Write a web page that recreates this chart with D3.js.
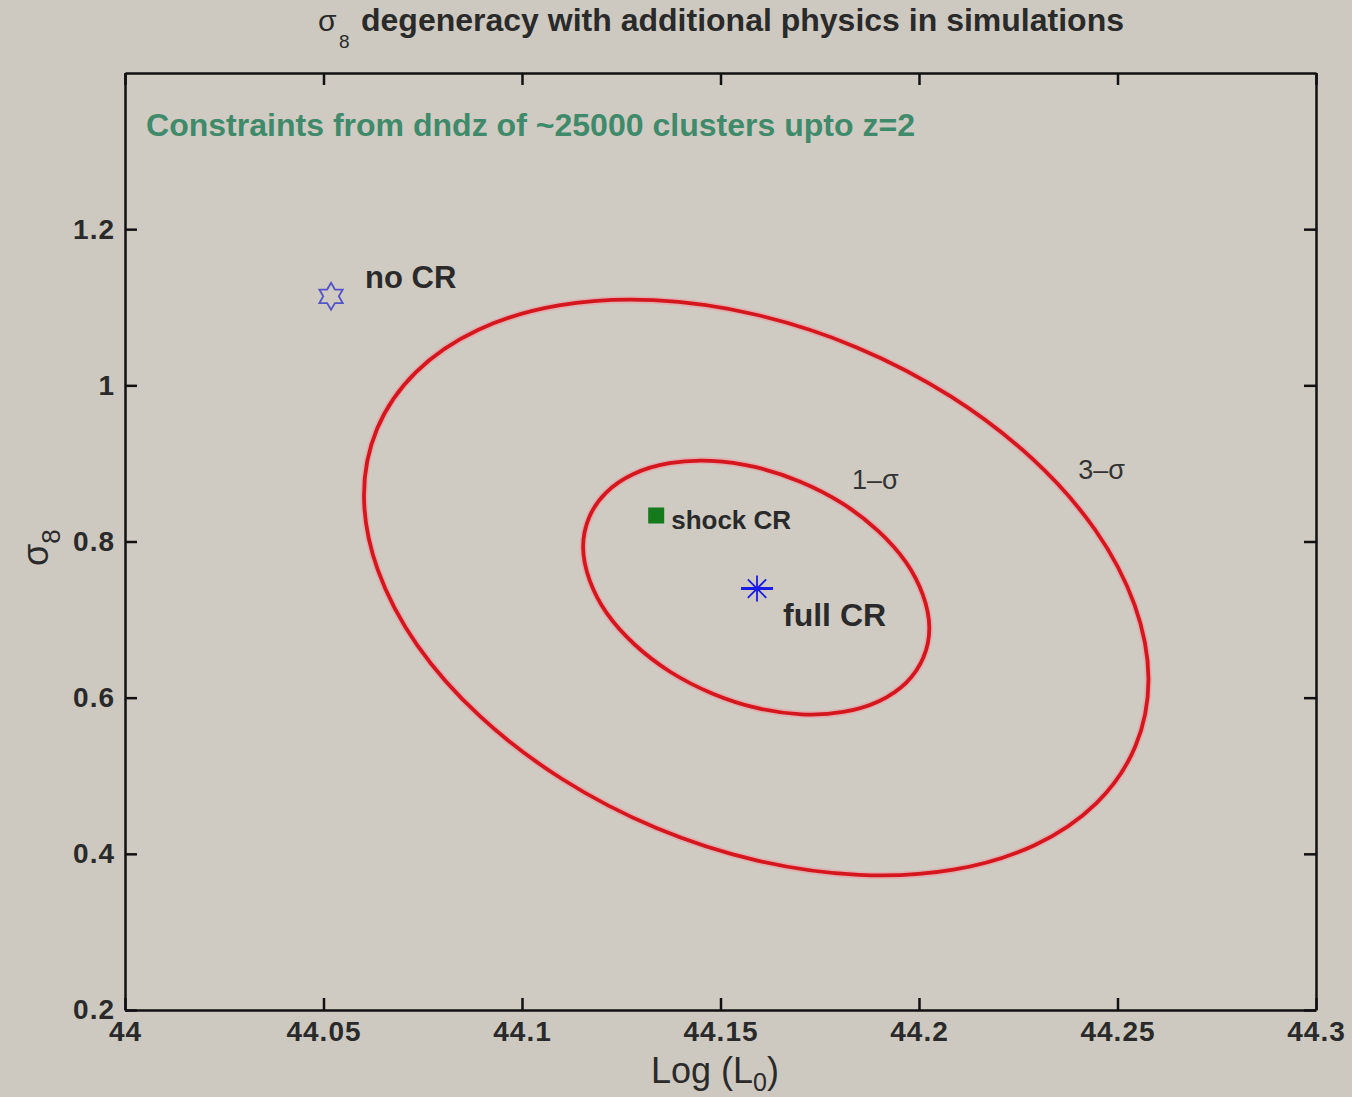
<!DOCTYPE html>
<html>
<head>
<meta charset="utf-8">
<script src="https://cdn.jsdelivr.net/npm/d3@7"></script>
<style>
  html, body { margin: 0; padding: 0; background: #cdc9c0; }
  svg { display: block; }
  text { font-family: "Liberation Sans", Arial, sans-serif; }
</style>
</head>
<body>
<svg id="chart" width="1352" height="1097"></svg>
<script>
// Axis ticks
const xTicks = [44, 44.05, 44.1, 44.15, 44.2, 44.25, 44.3];
const xTickLabels = ["44", "44.05", "44.1", "44.15", "44.2", "44.25", "44.3"];
const yTicks = [0.2, 0.4, 0.6, 0.8, 1.0, 1.2];
const yTickLabels = ["0.2", "0.4", "0.6", "0.8", "1", "1.2"];

// 3-sigma contour (Log L0, sigma8)
const contour3x = [44.2545, 44.2447, 44.2291, 44.2087, 44.1849, 44.1593, 44.1337, 44.1099,
                   44.0894, 44.0736, 44.0637, 44.0602, 44.0635, 44.0733, 44.0889, 44.1093,
                   44.1331, 44.1587, 44.1843, 44.2081, 44.2286, 44.2444, 44.2543, 44.2578];
const contour3y = [0.5377, 0.4650, 0.4111, 0.3797, 0.3730, 0.3913, 0.4334, 0.4965,
                   0.5763, 0.6673, 0.7633, 0.8578, 0.9443, 1.0170, 1.0709, 1.1023,
                   1.1090, 1.0907, 1.0486, 0.9855, 0.9057, 0.8147, 0.7187, 0.6242];

// 1-sigma contour
const contour1x = [44.2011, 44.1968, 44.1899, 44.1809, 44.1704, 44.1591, 44.1479, 44.1373,
                   44.1283, 44.1213, 44.1170, 44.1154, 44.1169, 44.1212, 44.1281, 44.1371,
                   44.1476, 44.1589, 44.1701, 44.1807, 44.1897, 44.1967, 44.2010, 44.2026];
const contour1y = [0.6513, 0.6193, 0.5955, 0.5817, 0.5787, 0.5868, 0.6054, 0.6332,
                   0.6684, 0.7085, 0.7508, 0.7925, 0.8307, 0.8627, 0.8865, 0.9003,
                   0.9033, 0.8952, 0.8766, 0.8488, 0.8136, 0.7735, 0.7312, 0.6895];

// Simulation models
const modelNames = ["no CR", "shock CR", "full CR"];
const modelLogL0 = [44.0519, 44.1338, 44.1592];
const modelSigma8 = [1.114, 0.8333, 0.7397];

// Contour level labels
const levelNames = ["1\u2013\u03c3", "3\u2013\u03c3"];
const levelLabelX = [44.1831, 44.2401];
const levelLabelY = [0.8667, 0.8795];

const svg = d3.select("#chart");
const margin = { left: 125, right: 36, top: 73, bottom: 87 };
const W = 1352, H = 1097;

const x = d3.scaleLinear().domain([44, 44.3]).range([margin.left, W - margin.right]);
const y = d3.scaleLinear().domain([0.2, 1.4]).range([H - margin.bottom, margin.top]);

const x0 = x.range()[0], x1 = x.range()[1];
const y0 = y.range()[0], y1 = y.range()[1];
const axisColor = "#111";
const textColor = "#2a2a2a";

// Plot area
svg.append("rect")
  .attr("x", x0).attr("y", y1)
  .attr("width", x1 - x0).attr("height", y0 - y1)
  .attr("fill", "#cfcbc2");

// Axes with inward ticks, mirrored on top and right
const tickLen = 12;
const bottomAxis = d3.axisBottom(x).tickValues(xTicks).tickSizeInner(-tickLen).tickSizeOuter(0)
  .tickFormat((d, i) => xTickLabels[i]).tickPadding(11);
const topAxis = d3.axisTop(x).tickValues(xTicks).tickSizeInner(-tickLen).tickSizeOuter(0).tickFormat("");
const leftAxis = d3.axisLeft(y).tickValues(yTicks).tickSizeInner(-tickLen).tickSizeOuter(0)
  .tickFormat((d, i) => yTickLabels[i]).tickPadding(10);
const rightAxis = d3.axisRight(y).tickValues(yTicks).tickSizeInner(-tickLen).tickSizeOuter(0).tickFormat("");

function styleAxis(g) {
  g.select(".domain").attr("stroke", axisColor).attr("stroke-width", 2.5);
  g.selectAll(".tick line").attr("stroke", axisColor).attr("stroke-width", 2.5);
  g.selectAll(".tick text")
    .attr("fill", textColor)
    .style("font-family", "'Liberation Sans', Arial, sans-serif")
    .style("font-weight", "bold")
    .style("font-size", "28px")
    .style("letter-spacing", "1px");
}

svg.append("g").attr("transform", `translate(0,${y0})`).call(bottomAxis).call(styleAxis);
svg.append("g").attr("transform", `translate(0,${y1})`).call(topAxis).call(styleAxis);
svg.append("g").attr("transform", `translate(${x0},0)`).call(leftAxis).call(styleAxis);
svg.append("g").attr("transform", `translate(${x1},0)`).call(rightAxis).call(styleAxis);

// Confidence contours
const line = d3.line().x(d => x(d[0])).y(d => y(d[1])).curve(d3.curveCardinalClosed.tension(0));
const contours = [
  d3.zip(contour3x, contour3y),
  d3.zip(contour1x, contour1y)
];
const cg = svg.append("g");
cg.selectAll("path.glow").data(contours).join("path")
  .attr("class", "glow")
  .attr("d", line)
  .attr("fill", "none")
  .attr("stroke", "#e8a0a4")
  .attr("stroke-opacity", 0.7)
  .attr("stroke-width", 7);
cg.selectAll("path.contour").data(contours).join("path")
  .attr("class", "contour")
  .attr("d", line)
  .attr("fill", "none")
  .attr("stroke", "#d4161f")
  .attr("stroke-width", 3.8);

// Contour level labels
svg.append("g").selectAll("text").data(levelNames).join("text")
  .attr("x", (d, i) => x(levelLabelX[i]))
  .attr("y", (d, i) => y(levelLabelY[i]))
  .attr("fill", "#333")
  .style("font-size", "27px")
  .text(d => d);

// Marker shapes
// six-pointed star outline (no CR)
const hexagram = {
  draw(ctx, size) {
    const R = Math.sqrt(size) / 2, r = R / Math.sqrt(3);
    for (let j = 0; j < 12; j++) {
      const a = -Math.PI / 2 + j * Math.PI / 6;
      const rr = j % 2 === 0 ? R : r;
      const px = rr * Math.cos(a), py = rr * Math.sin(a);
      if (j === 0) ctx.moveTo(px, py); else ctx.lineTo(px, py);
    }
    ctx.closePath();
  }
};
// eight-spoke asterisk (full CR)
const asterisk = {
  draw(ctx, size) {
    const r = Math.sqrt(size) / 2;
    for (let j = 0; j < 4; j++) {
      const a = j * Math.PI / 4;
      ctx.moveTo(-r * Math.cos(a), -r * Math.sin(a));
      ctx.lineTo(r * Math.cos(a), r * Math.sin(a));
    }
  }
};

const mg = svg.append("g");
mg.append("path")
  .attr("transform", `translate(${x(modelLogL0[0])},${y(modelSigma8[0])})`)
  .attr("d", d3.symbol().type(hexagram).size(27 * 27)())
  .attr("fill", "none").attr("stroke", "#5454c8").attr("stroke-width", 1.8);
mg.append("rect")
  .attr("x", x(modelLogL0[1]) - 8).attr("y", y(modelSigma8[1]) - 8)
  .attr("width", 16).attr("height", 16)
  .attr("fill", "#157a1b");
mg.append("path")
  .attr("transform", `translate(${x(modelLogL0[2])},${y(modelSigma8[2])})`)
  .attr("d", d3.symbol().type(asterisk).size(26 * 26)())
  .attr("fill", "none").attr("stroke", "#1a1ae6").attr("stroke-width", 1.8);
mg.append("line")
  .attr("x1", x(modelLogL0[2]) - 16).attr("x2", x(modelLogL0[2]) + 16)
  .attr("y1", y(modelSigma8[2])).attr("y2", y(modelSigma8[2]))
  .attr("stroke", "#1a1ae6").attr("stroke-width", 3);

// Model labels
svg.append("text").attr("x", x(modelLogL0[0]) + 34).attr("y", y(modelSigma8[0]) - 8)
  .attr("fill", textColor).style("font-size", "31px").style("font-weight", "bold")
  .text(modelNames[0]);
svg.append("text").attr("x", x(modelLogL0[1]) + 15).attr("y", y(modelSigma8[1]) + 14)
  .attr("fill", textColor).style("font-size", "26px").style("font-weight", "bold")
  .text(modelNames[1]);
svg.append("text").attr("x", x(modelLogL0[2]) + 26).attr("y", y(modelSigma8[2]) + 37)
  .attr("fill", textColor).style("font-size", "32px").style("font-weight", "bold")
  .text(modelNames[2]);

// Annotation inside the plot
svg.append("text").attr("x", 146).attr("y", 136)
  .attr("fill", "#3f8a6a")
  .style("font-size", "32px").style("font-weight", "bold")
  .attr("textLength", 769).attr("lengthAdjust", "spacingAndGlyphs")
  .text("Constraints from dndz of ~25000 clusters upto z=2");

// Title: sigma_8 followed by a condensed bold line
svg.append("text").attr("x", 318).attr("y", 31)
  .attr("fill", textColor).style("font-size", "30px")
  .text("\u03c3");
svg.append("text").attr("x", 339).attr("y", 48)
  .attr("fill", textColor).style("font-size", "19px")
  .text("8");
svg.append("text").attr("x", 361).attr("y", 31)
  .attr("fill", textColor).style("font-size", "31px").style("font-weight", "bold")
  .attr("textLength", 763).attr("lengthAdjust", "spacingAndGlyphs")
  .text("degeneracy with additional physics in simulations");

// X-axis label: Log (L0)
const xl = svg.append("text").attr("x", 651).attr("y", 1083)
  .attr("fill", textColor).style("font-size", "36px");
xl.append("tspan").text("Log (L");
xl.append("tspan").attr("dy", 8).style("font-size", "25px").text("0");
xl.append("tspan").attr("dy", -8).text(")");

// Y-axis label: sigma_8, rotated
const yl = svg.append("text").attr("transform", "translate(48,566) rotate(-90)")
  .attr("fill", textColor).style("font-size", "36px");
yl.append("tspan").text("\u03c3");
yl.append("tspan").attr("dy", 12).style("font-size", "26px").text("8");
</script>
</body>
</html>
